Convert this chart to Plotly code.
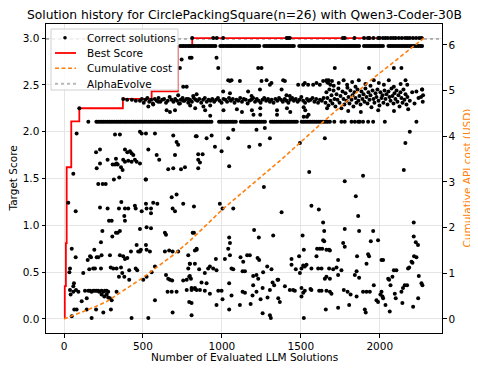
import plotly.graph_objects as go

# ---------------- data ----------------
TITLE = "Solution history for CirclePackingSquare(n=26) with Qwen3-Coder-30B"
X_TITLE = "Number of Evaluated LLM Solutions"
Y_TITLE = "Target Score"
Y2_TITLE = "Cumulative API cost (USD)"
X_TICKS = [0, 500, 1000, 1500, 2000]
Y_TICKS = [0.0, 0.5, 1.0, 1.5, 2.0, 2.5, 3.0]
Y_TICK_LABELS = ["0.0", "0.5", "1.0", "1.5", "2.0", "2.5", "3.0"]
COST_TICKS = [0, 1, 2, 3, 4, 5, 6]
X_RANGE = [-114, 2394]
Y_RANGE = [-0.15, 3.15]
COST_RANGE = [-0.3075, 6.4575]

LEGEND_LABELS = ["Correct solutions", "Best Score", "Cumulative cost", "AlphaEvolve"]

ALPHAEVOLVE_SCORE = 2.99

# best score so far (step)
best_x = [0, 5, 12, 17, 46, 97, 373, 555, 721, 812, 2280]
best_y = [0.02, 0.35, 0.81, 1.62, 2.11, 2.25, 2.35, 2.43, 2.91, 3.0, 3.0]

# cumulative API cost (USD)
cost_x = [0, 60, 186, 270, 481, 692, 800, 1004, 1200, 1380, 1620, 1940, 2280]
cost_y = [0.0, 0.08, 0.25, 0.38, 0.86, 1.40, 1.72, 2.40, 2.98, 3.50, 4.25, 5.22, 6.15]

# rows of solutions that hit the same score
ROW_TOP_SCORE = 3.0
row_top_x = [812, 945, 968, 1008, 1410, 1420, 1430, 1766, 1778, 1840, 1900, 1925, 1935, 1960,
             1990, 2000, 2020, 2035, 2050, 2070, 2085, 2100, 2120, 2140, 2160, 2175, 2190,
             2210, 2230, 2250, 2265]

ROW_B_SCORE = 2.914
row_b_x = [736, 748, 759, 771, 784, 795, 806, 818, 829, 842, 853, 864, 877, 889, 900, 912, 924,
           935, 948, 959, 990, 1002, 1013, 1026, 1037, 1049, 1060, 1072, 1084, 1096, 1107, 1119,
           1131, 1143, 1154, 1166, 1178, 1190, 1201, 1213, 1225, 1237, 1268, 1280, 1292, 1303,
           1315, 1327, 1339, 1350, 1362, 1374, 1386, 1397, 1409, 1421, 1433, 1445, 1456, 1490,
           1502, 1514, 1526, 1537, 1549, 1561, 1573, 1585, 1596, 1608, 1620, 1632, 1644, 1656,
           1667, 1679, 1691, 1703, 1715, 1727, 1738, 1750, 1762, 1774, 1786, 1797, 1809, 1821,
           1833, 1845, 1857, 1869, 1900, 1912, 1924, 1936, 1948, 1960, 1972, 1984, 1996, 2008,
           2020, 2055, 2067, 2079, 2091, 2103, 2115, 2127, 2139, 2151, 2163, 2175, 2187, 2199,
           2211, 2223, 2235, 2247, 2259, 2268]

ROW_C_SCORE = 2.106
row_c_x = [154, 205, 216, 228, 240, 251, 263, 275, 287, 298, 310, 322, 334, 345, 357, 369, 381,
           392, 404, 416, 428, 440, 451, 463, 475, 487, 498, 510, 522, 534, 546, 557, 569, 581,
           593, 604, 616, 628, 640, 652, 663, 675, 687, 699, 710, 722, 734, 746, 757, 769, 781,
           793, 805, 816, 828, 840, 852, 863, 875, 887, 899, 910, 922, 934, 982, 994, 1006, 1018,
           1029, 1041, 1053, 1065, 1076, 1088, 1120, 1132, 1144, 1155, 1167, 1179, 1191, 1202,
           1214, 1226, 1238, 1249, 1261, 1273, 1310, 1322, 1333, 1345, 1357, 1369, 1380, 1392,
           1404, 1416, 1427, 1439, 1451, 1463, 1475, 1505, 1516, 1528, 1540, 1552, 1563, 1575,
           1587, 1599, 1611, 1622, 1634, 1646, 1658, 1670, 1684, 1712, 1757, 1778, 1821, 1842,
           1863, 1873, 1894, 1926, 1958, 2032, 2232]

# dense band around 2.35
band_pts = [
    (375, 2.35), (400, 2.34), (430, 2.34), (455, 2.33),
    (481, 2.33), (493, 2.35), (505, 2.31), (516, 2.34), (528, 2.36), (540, 2.32), (552, 2.34),
    (563, 2.30), (575, 2.35), (587, 2.33), (599, 2.36), (610, 2.32), (622, 2.34), (634, 2.35),
    (646, 2.31), (657, 2.33), (669, 2.37), (681, 2.34), (693, 2.32), (704, 2.35), (716, 2.33),
    (728, 2.30), (740, 2.34), (751, 2.36), (763, 2.33), (775, 2.35), (787, 2.31), (798, 2.34),
    (810, 2.32), (822, 2.36), (834, 2.34), (845, 2.33), (857, 2.35), (869, 2.31), (881, 2.34),
    (892, 2.36), (904, 2.32), (916, 2.34), (928, 2.33), (939, 2.35), (951, 2.32), (963, 2.34),
    (975, 2.36), (986, 2.33), (998, 2.31), (1010, 2.35), (1022, 2.34), (1033, 2.32), (1045, 2.36),
    (1057, 2.33), (1069, 2.35), (1080, 2.31), (1092, 2.34), (1104, 2.33), (1116, 2.36),
    (1127, 2.32), (1139, 2.35), (1151, 2.34), (1163, 2.30), (1174, 2.33), (1186, 2.34),
    (1198, 2.36), (1210, 2.32), (1221, 2.35), (1233, 2.33), (1245, 2.31), (1257, 2.34),
    (1268, 2.36), (1280, 2.33), (1292, 2.35), (1304, 2.32), (1315, 2.34), (1327, 2.31),
    (1339, 2.35), (1351, 2.33), (1362, 2.36), (1374, 2.34), (1386, 2.32), (1398, 2.35),
    (1409, 2.33), (1421, 2.31), (1433, 2.34), (1445, 2.36), (1456, 2.33), (1468, 2.35),
    (1480, 2.32), (1492, 2.34), (1503, 2.37), (1515, 2.33), (1527, 2.31), (1539, 2.35),
    (1550, 2.33), (1562, 2.34), (1574, 2.36), (1586, 2.32), (1597, 2.35), (1609, 2.31),
    (1621, 2.34), (1633, 2.33), (1644, 2.36),
    (1656, 2.31), (1662, 2.42), (1668, 2.36), (1675, 2.28), (1681, 2.45), (1688, 2.33),
    (1694, 2.39), (1700, 2.30), (1707, 2.44), (1713, 2.35), (1719, 2.27), (1726, 2.40),
    (1732, 2.34), (1738, 2.46), (1745, 2.31), (1751, 2.38), (1757, 2.25), (1764, 2.43),
    (1770, 2.35), (1776, 2.29), (1783, 2.41), (1789, 2.33), (1795, 2.47), (1802, 2.37),
    (1808, 2.30), (1814, 2.44), (1821, 2.34), (1827, 2.39), (1833, 2.27), (1840, 2.42),
    (1846, 2.36), (1852, 2.31), (1859, 2.45), (1865, 2.33), (1871, 2.38), (1878, 2.29),
    (1884, 2.43), (1890, 2.35), (1897, 2.40), (1903, 2.32), (1909, 2.46), (1916, 2.37),
    (1922, 2.30), (1928, 2.42), (1935, 2.34), (1941, 2.39), (1947, 2.26), (1954, 2.44),
    (1960, 2.35), (1966, 2.31), (1973, 2.41), (1979, 2.37), (1985, 2.45), (1992, 2.33),
    (1998, 2.28), (2004, 2.42), (2011, 2.36), (2017, 2.39), (2023, 2.31), (2030, 2.44),
    (2036, 2.35), (2042, 2.40), (2049, 2.29), (2055, 2.43), (2061, 2.37), (2068, 2.33),
    (2074, 2.46), (2080, 2.38), (2087, 2.30), (2093, 2.41), (2099, 2.35), (2106, 2.44),
    (2112, 2.32), (2118, 2.39), (2125, 2.27), (2131, 2.42), (2137, 2.36), (2144, 2.31),
    (2150, 2.45), (2156, 2.34), (2163, 2.40), (2169, 2.29), (2175, 2.37), (2190, 2.33),
    (2205, 2.42), (2220, 2.30), (2232, 2.43), (2245, 2.36), (2261, 2.37), (2268, 2.45),
    (2272, 2.32), (2274, 2.39),
]

# scattered solutions above 2.1
upper_pts = [
    (734, 2.68), (745, 2.77), (797, 2.79), (755, 2.48), (777, 2.48), (723, 2.39), (808, 2.79),
    (966, 2.79), (977, 2.68), (1230, 2.68), (1251, 2.68), (1040, 2.55), (1051, 2.54),
    (1061, 2.55), (1114, 2.54), (1251, 2.54), (1283, 2.55), (1304, 2.50), (1314, 2.52),
    (1388, 2.55), (1399, 2.54), (1483, 2.50), (1515, 2.50), (1525, 2.52), (1546, 2.50),
    (1578, 2.50), (1599, 2.52), (1620, 2.50), (1641, 2.54), (1662, 2.55), (1673, 2.52),
    (1241, 2.45), (1166, 2.43), (1188, 2.38), (1008, 2.43), (1051, 2.41), (1378, 2.45),
    (1409, 2.39), (1430, 2.38), (1715, 2.68), (1932, 2.68), (2089, 2.68), (2137, 2.68),
    (1666, 2.53), (1676, 2.55), (1687, 2.50), (1697, 2.54), (1708, 2.49), (1740, 2.52),
    (1771, 2.55), (1793, 2.50), (1825, 2.53), (1846, 2.48), (1867, 2.55), (1909, 2.51),
    (1941, 2.49), (1962, 2.55), (1994, 2.52), (2026, 2.50), (2057, 2.55), (2089, 2.48),
    (2132, 2.51), (2163, 2.55), (2174, 2.50), (2268, 2.45),
    (534, 2.27), (565, 2.29), (597, 2.32), (650, 2.23), (671, 2.21), (703, 2.23), (734, 2.30),
    (755, 2.33), (787, 2.35), (818, 2.38), (840, 2.40), (97, 2.25),
    (926, 2.17), (1200, 2.18), (1243, 2.18), (1349, 2.18), (1518, 2.16), (1539, 2.16),
    (1549, 2.18), (799, 2.28), (831, 2.25), (883, 2.27), (926, 2.28), (894, 2.23), (1010, 2.23),
    (1095, 2.24), (1127, 2.21), (1190, 2.23), (1243, 2.25), (1349, 2.23), (1412, 2.25),
    (1433, 2.21), (1518, 2.26), (1528, 2.23), (1666, 2.25), (1800, 2.22), (1880, 2.21),
    (1990, 2.23), (2090, 2.22), (2180, 2.24),
]

# scattered solutions between 1.0 and 2.1
mid_pts = [
    (217, 1.44), (245, 1.44), (264, 1.44), (316, 1.49), (519, 1.49), (27, 1.24), (74, 1.15),
    (228, 1.19), (276, 1.18), (348, 1.18), (386, 1.18), (407, 1.18), (363, 1.25), (382, 1.10),
    (386, 1.05), (449, 1.21), (454, 1.18), (492, 1.15), (519, 1.23), (523, 1.18), (551, 1.18),
    (551, 1.13), (565, 1.24), (591, 1.23), (682, 1.30), (713, 1.33), (688, 1.18), (703, 1.15),
    (755, 1.23), (823, 1.20), (302, 1.05), (285, 1.05),
    (80, 1.98), (323, 1.97), (354, 1.97), (481, 2.00), (492, 1.98), (519, 1.98), (576, 1.98),
    (692, 1.96), (713, 1.89), (723, 1.86), (534, 1.81), (587, 1.75), (603, 1.70), (703, 1.75),
    (835, 1.95), (850, 1.70), (203, 1.78), (228, 1.81), (276, 1.70), (228, 1.66), (207, 1.61),
    (329, 1.71), (333, 1.66), (308, 1.65), (323, 1.65), (340, 1.65), (361, 1.62), (386, 1.81),
    (401, 1.78), (418, 1.79), (428, 1.77), (439, 1.75), (449, 1.70), (460, 1.68), (375, 1.70),
    (386, 1.68), (407, 1.69), (428, 1.68), (371, 1.59), (350, 1.51), (481, 1.66), (660, 1.60),
    (692, 1.61), (741, 1.60), (766, 1.62), (850, 1.61), (59, 1.55), (517, 1.49),
    (1072, 2.02), (1219, 2.02), (1272, 2.04), (840, 1.95), (903, 1.93), (935, 1.96),
    (1304, 1.93), (1040, 1.93), (956, 1.84), (998, 1.79), (1173, 1.84), (1241, 1.86),
    (1494, 1.88), (850, 1.76), (878, 1.76), (1652, 1.93), (861, 1.67), (1046, 1.63),
    (1553, 1.57), (1266, 1.41), (987, 1.23), (1004, 1.18), (1072, 1.18), (1378, 1.14),
    (1567, 1.21), (1614, 1.17), (1641, 1.03), (2152, 1.59), (1894, 1.53), (1778, 1.47),
    (1848, 1.31), (1863, 1.10), (2215, 1.03), (2162, 1.88), (2190, 2.00),
]

# scattered solutions below 1.0
low_pts = [
    (243, 0.94), (329, 0.92), (340, 0.92), (354, 0.94), (306, 0.88), (234, 0.82), (49, 0.75),
    (74, 0.66), (192, 0.74), (171, 0.66), (150, 0.63), (165, 0.67), (207, 0.66), (217, 0.66),
    (238, 0.68), (291, 0.68), (354, 0.68), (375, 0.67), (386, 0.64), (401, 0.65), (424, 0.72),
    (460, 0.79), (470, 0.72), (481, 0.72), (487, 0.74), (519, 0.79), (523, 0.74), (544, 0.72),
    (481, 0.96), (523, 0.98), (551, 0.97), (639, 0.92), (646, 0.90), (639, 0.72), (666, 0.73),
    (688, 0.72), (723, 0.72), (787, 0.68), (823, 0.92), (840, 0.74), (122, 0.49), (160, 0.53),
    (185, 0.54), (196, 0.54), (234, 0.54), (296, 0.55), (312, 0.54), (333, 0.54), (361, 0.55),
    (369, 0.49), (348, 0.45), (382, 0.45), (413, 0.52), (413, 0.42), (454, 0.54), (464, 0.52),
    (502, 0.42), (523, 0.45), (555, 0.50), (576, 0.56), (38, 0.54), (34, 0.50), (63, 0.38),
    (59, 0.35), (38, 0.31), (42, 0.26), (59, 0.29), (76, 0.31), (91, 0.29), (133, 0.30),
    (154, 0.30), (165, 0.30), (175, 0.29), (185, 0.30), (196, 0.30), (207, 0.30), (217, 0.30),
    (223, 0.29), (238, 0.30), (249, 0.29), (259, 0.30), (270, 0.30), (280, 0.29), (238, 0.26),
    (255, 0.24), (270, 0.26), (280, 0.23), (291, 0.22), (302, 0.20), (112, 0.19), (144, 0.22),
    (65, 0.10), (80, 0.10), (144, 0.10), (175, 0.01), (203, 0.10), (249, 0.07), (297, 0.10),
    (49, 0.03), (333, 0.29), (428, 0.01), (534, 0.01), (576, 0.20), (656, 0.29), (682, 0.29),
    (713, 0.29), (646, 0.47), (660, 0.43), (671, 0.42), (685, 0.41), (755, 0.41), (777, 0.42),
    (793, 0.45), (804, 0.43), (787, 0.54), (797, 0.59), (829, 0.59), (688, 0.07), (808, 0.04),
    (793, 0.18), (777, 0.31), (808, 0.31), (829, 0.33), (840, 0.31),
    (815, 0.92), (840, 0.75), (829, 0.73), (1204, 0.95), (1234, 0.87), (1325, 0.89),
    (1046, 0.87), (1051, 0.81), (1040, 0.75), (1511, 0.89), (1519, 0.74), (1648, 0.94),
    (1641, 0.84), (1648, 0.83), (1620, 0.75), (1599, 0.67), (1603, 0.75), (1635, 0.75),
    (1662, 0.74), (797, 0.59), (856, 0.53), (892, 0.49), (913, 0.54), (924, 0.56), (945, 0.54),
    (966, 0.52), (962, 0.64), (1019, 0.64), (1051, 0.68), (1061, 0.54), (1072, 0.53),
    (1118, 0.66), (1135, 0.61), (1131, 0.51), (1146, 0.51), (1160, 0.68), (1177, 0.68),
    (1198, 0.46), (1219, 0.47), (1226, 0.65), (1236, 0.63), (1261, 0.50), (1287, 0.56),
    (1314, 0.53), (1357, 0.42), (1441, 0.64), (1441, 0.58), (1468, 0.53), (1489, 0.67),
    (1494, 0.49), (1504, 0.54), (1515, 0.57), (1525, 0.56), (1536, 0.58), (1567, 0.54),
    (1610, 0.54), (1631, 0.54), (1652, 0.43), (1662, 0.45), (1679, 0.54),
    (797, 0.46), (808, 0.33), (829, 0.32), (861, 0.31), (892, 0.30), (903, 0.38), (871, 0.39),
    (924, 0.27), (966, 0.15), (1004, 0.21), (977, 0.30), (998, 0.30), (808, 0.17), (1046, 0.10),
    (1061, 0.25), (1046, 0.38), (1114, 0.15), (1131, 0.29), (1146, 0.28), (1182, 0.16),
    (1194, 0.25), (1198, 0.36), (1230, 0.43), (1219, 0.29), (1245, 0.21), (1258, 0.33),
    (1258, 0.06), (1289, 0.23), (1304, 0.31), (1304, 0.04), (1310, 0.01), (1321, 0.39),
    (1331, 0.36), (1352, 0.42), (1357, 0.22), (1367, 0.18), (1399, 0.35), (1430, 0.31),
    (1451, 0.31), (1462, 0.30), (1504, 0.33), (1504, 0.24), (1515, 0.28), (1519, 0.01),
    (1525, 0.30), (1561, 0.32), (1567, 0.31), (1616, 0.30), (1631, 0.30), (1662, 0.30),
    (1658, 0.10),
    (1869, 0.94), (1679, 0.74), (1684, 0.73), (1778, 0.96), (1768, 0.81), (1778, 0.77),
    (1958, 0.94), (1943, 0.83), (1926, 0.69), (1932, 0.67), (1989, 0.84), (2021, 0.63),
    (2011, 0.63), (1856, 0.67), (1916, 0.59), (1736, 0.63), (1726, 0.55), (1705, 0.53),
    (1736, 0.47), (1757, 0.52), (1684, 0.43), (1684, 0.29), (1694, 0.27), (1736, 0.12),
    (1772, 0.31), (1796, 0.29), (1815, 0.26), (1853, 0.24), (1806, 0.15), (1842, 0.47),
    (1853, 0.51), (1869, 0.44), (1894, 0.29), (1905, 0.10), (1911, 0.07), (1916, 0.29),
    (1937, 0.29), (1962, 0.36), (1979, 0.20), (1989, 0.18), (2011, 0.29), (2017, 0.24),
    (2021, 0.22), (2004, 0.26), (2036, 0.15), (2053, 0.43), (2059, 0.42), (2068, 0.36),
    (2080, 0.45), (2089, 0.52), (2105, 0.52), (2137, 0.29), (2147, 0.33), (2158, 0.36),
    (2173, 0.36), (2179, 0.54), (2186, 0.55), (2201, 0.61), (2207, 0.60), (2217, 0.67),
    (2232, 0.66), (2242, 0.79), (2228, 0.82), (2215, 0.88), (2211, 0.13), (2243, 0.22),
    (2264, 0.38), (2270, 0.36), (2247, 0.46), (2143, 0.17), (2101, 0.22), (2095, 0.27),
    (2063, 0.08),
]

# ---------------- assemble ----------------
sol_x, sol_y = [], []
for xs, score in ((row_top_x, ROW_TOP_SCORE), (row_b_x, ROW_B_SCORE), (row_c_x, ROW_C_SCORE)):
    sol_x += xs
    sol_y += [score] * len(xs)
for pts in (band_pts, upper_pts, mid_pts, low_pts):
    sol_x += [p[0] for p in pts]
    sol_y += [p[1] for p in pts]

FONT = "DejaVu Sans"
ORANGE = "#ff7f0e"
RED = "#ff0000"
GRAY_DOT = "rgba(128,128,128,0.55)"

# the page body adds an 8px offset; the figure is sized so the plot area
# lands at x 46..442, y 24..333 of the 478x373 window
PAGE_OFF = 8
W, H = 478 - PAGE_OFF, 373 - PAGE_OFF
PL, PR, PT, PB = 46, 442, 24, 333            # plot area in window pixels
ML, MR, MT, MB = PL - PAGE_OFF, W + PAGE_OFF - PR, PT - PAGE_OFF, H + PAGE_OFF - PB
PW, PH = PR - PL, PB - PT


def px(xw):
    return (xw - PL) / PW


def py(yw):
    return (PB - yw) / PH


fig = go.Figure()

fig.add_trace(go.Scatter(
    x=X_RANGE, y=[ALPHAEVOLVE_SCORE, ALPHAEVOLVE_SCORE], mode="lines", name=LEGEND_LABELS[3],
    line=dict(color=GRAY_DOT, width=2, dash="dot"), hoverinfo="skip"))

fig.add_trace(go.Scatter(
    x=best_x, y=best_y, mode="lines", name=LEGEND_LABELS[1], line_shape="hv",
    line=dict(color=RED, width=1.8)))

fig.add_trace(go.Scatter(
    x=sol_x, y=sol_y, mode="markers", name=LEGEND_LABELS[0],
    marker=dict(color="black", size=4)))

fig.add_trace(go.Scatter(
    x=cost_x, y=cost_y, mode="lines", name=LEGEND_LABELS[2], yaxis="y2",
    line=dict(color=ORANGE, width=1.6, dash="4px,2.5px")))

# ---- legend box drawn like matplotlib's (compact) ----
shapes = [dict(type="rect", xref="paper", yref="paper", x0=px(51), x1=px(178), y0=py(90),
               y1=py(29), fillcolor="rgba(255,255,255,0.8)",
               line=dict(color="#d0d0d0", width=1), layer="above")]
annotations = []
entry_y = [37.7, 53.0, 68.3, 83.7]
styles = [None, dict(color=RED, width=1.8), dict(color=ORANGE, width=1.6, dash="4px,2.5px"),
          dict(color=GRAY_DOT, width=2, dash="dot")]
for label, ey, st in zip(LEGEND_LABELS, entry_y, styles):
    if st is None:
        shapes.append(dict(type="circle", xref="paper", yref="paper",
                           x0=px(63.2), x1=px(66.8), y0=py(ey + 1.8), y1=py(ey - 1.8),
                           fillcolor="black", line=dict(width=0), layer="above"))
    else:
        shapes.append(dict(type="line", xref="paper", yref="paper", x0=px(55), x1=px(76),
                           y0=py(ey), y1=py(ey), line=st, layer="above"))
    annotations.append(dict(text=label, xref="paper", yref="paper", x=px(85), y=py(ey),
                            xanchor="left", yanchor="middle", showarrow=False,
                            font=dict(family=FONT, size=10.5, color="black")))

# chart title and axis titles
annotations += [
    dict(text=TITLE, xref="paper", yref="paper", x=px(244), y=py(14.5), xanchor="center",
         yanchor="middle", showarrow=False, font=dict(family=FONT, size=12.3, color="black")),
    dict(text=X_TITLE, xref="paper", yref="paper", x=px(244), y=py(357), xanchor="center",
         yanchor="middle", showarrow=False, font=dict(family=FONT, size=10.5, color="black")),
    dict(text=Y_TITLE, xref="paper", yref="paper", x=px(12), y=py(178.5), xanchor="center",
         yanchor="middle", textangle=-90, showarrow=False,
         font=dict(family=FONT, size=10.5, color="black")),
    dict(text=Y2_TITLE, xref="paper", yref="paper", x=px(466), y=py(178.5), xanchor="center",
         yanchor="middle", textangle=-90, showarrow=False,
         font=dict(family=FONT, size=10.5, color=ORANGE)),
]

axis_common = dict(showline=True, linecolor="black", linewidth=1, ticks="outside",
                   ticklen=3.5, tickcolor="black", tickwidth=1, zeroline=False, automargin=False,
                   tickfont=dict(family=FONT, size=10.5, color="black"))

fig.update_layout(
    width=W, height=H,
    margin=dict(l=ML, r=MR, t=MT, b=MB, autoexpand=False),
    paper_bgcolor="white", plot_bgcolor="white",
    font=dict(family=FONT, size=10.5, color="black"),
    xaxis=dict(range=X_RANGE, tickvals=X_TICKS, showgrid=True, gridcolor="#e5e5e5",
               gridwidth=1, mirror=True, **axis_common),
    yaxis=dict(range=Y_RANGE, tickvals=Y_TICKS, ticktext=Y_TICK_LABELS, showgrid=True,
               gridcolor="#e5e5e5", gridwidth=1, **axis_common),
    yaxis2=dict(range=COST_RANGE, tickvals=COST_TICKS, overlaying="y", side="right",
                showgrid=False, **axis_common),
    showlegend=False,
    shapes=shapes,
    annotations=annotations,
)

fig.write_html("out.html")
